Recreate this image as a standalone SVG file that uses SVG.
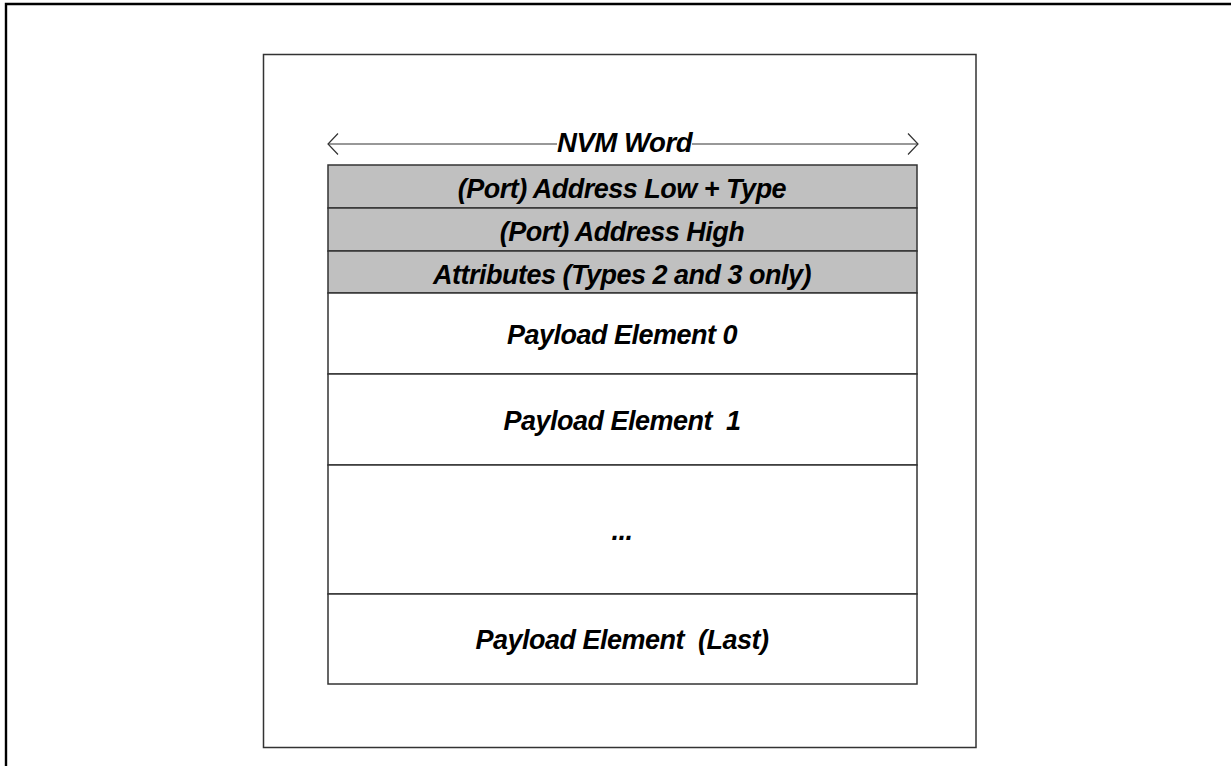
<svg xmlns="http://www.w3.org/2000/svg" width="1231" height="766" viewBox="0 0 1231 766">
  <style>
    .frame { fill: none; stroke: #000; stroke-width: 2.4; }
    .panel { fill: #fff; stroke: #333; stroke-width: 1.5; }
    .hdr { fill: #c0c0c0; stroke: #333; stroke-width: 1.5; }
    .cell { fill: #fff; stroke: #333; stroke-width: 1.5; }
    .lbl { font-family: "Liberation Sans", Arial, sans-serif; font-weight: bold; font-style: italic; font-size: 27px; letter-spacing: -0.5px; fill: #000; text-anchor: middle; white-space: pre; }
    .conn { fill: none; stroke: #333; stroke-width: 1.2; }
  </style>
  <rect width="1231" height="766" fill="#fff"/>
  <path class="frame" d="M6,770 L6,4 L1235,4"/>
  <rect id="panel" class="panel" x="263.5" y="54.5" width="712.5" height="693"/>

  <g id="connectors">
    <line class="conn" x1="328" y1="144" x2="557" y2="144"/>
    <line class="conn" x1="692" y1="144" x2="918" y2="144"/>
    <polyline class="conn" points="338,133.5 328,144 338,154.5"/>
    <polyline class="conn" points="908,133.5 918,144 908,154.5"/>
  </g>
  <g id="label-nvm-word">
    <text class="lbl" x="624.5" y="152.3" textLength="135" lengthAdjust="spacingAndGlyphs">NVM Word</text>
  </g>

  <g id="row-addr-low">
    <rect class="hdr" x="328" y="165" width="589" height="43"/>
    <text class="lbl" x="622" y="198">(Port) Address Low + Type</text>
  </g>
  <g id="row-addr-high">
    <rect class="hdr" x="328" y="208" width="589" height="43"/>
    <text class="lbl" x="622" y="241">(Port) Address High</text>
  </g>
  <g id="row-attributes">
    <rect class="hdr" x="328" y="251" width="589" height="42"/>
    <text class="lbl" x="622" y="283.5">Attributes (Types 2 and 3 only)</text>
  </g>
  <g id="row-payload-0">
    <rect class="cell" x="328" y="293" width="589" height="81"/>
    <text class="lbl" x="622" y="343.5">Payload Element 0</text>
  </g>
  <g id="row-payload-1">
    <rect class="cell" x="328" y="374" width="589" height="91"/>
    <text class="lbl" x="622" y="429.5">Payload Element  1</text>
  </g>
  <g id="row-ellipsis">
    <rect class="cell" x="328" y="465" width="589" height="129"/>
    <text class="lbl" x="622" y="539.5">...</text>
  </g>
  <g id="row-payload-last">
    <rect class="cell" x="328" y="594" width="589" height="90"/>
    <text class="lbl" x="622" y="648.5">Payload Element  (Last)</text>
  </g>
</svg>
